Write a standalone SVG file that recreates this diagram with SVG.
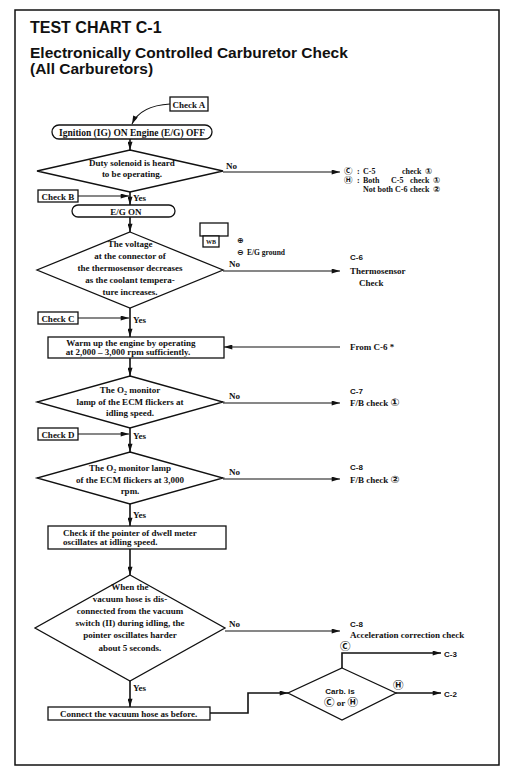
<svg xmlns="http://www.w3.org/2000/svg" width="511" height="783" viewBox="0 0 511 783">
<style>
.ln{stroke:#111;stroke-width:1.6;fill:none}
.tn{stroke:#111;stroke-width:1.1;fill:none}
.bx{fill:#fff;stroke:#111;stroke-width:1.3}
.t{font-family:"Liberation Serif","Times New Roman","Noto Sans CJK JP",serif;font-weight:bold;font-size:9px;fill:#111}
.c{text-anchor:middle}
.s{font-family:"Liberation Sans",Arial,sans-serif;font-weight:bold;fill:#111}
.sym{font-family:"DejaVu Sans","Noto Sans CJK JP",sans-serif;font-weight:bold;font-size:10.5px;fill:#111}
.f6{font-size:6px}
.f75{font-size:7.5px}
.f8{font-size:8px}
.f95{font-size:9.5px}
.y9{font-size:8.5px}
</style>
<defs>
<marker id="ah" viewBox="0 0 10 6" refX="10" refY="3" markerWidth="9" markerHeight="5" orient="auto" markerUnits="userSpaceOnUse"><path d="M0,0 L10,3 L0,6 z" fill="#111"/></marker>
</defs>
<rect x="0" y="0" width="511" height="783" fill="#fff"/>
<rect x="15" y="10" width="484" height="755" fill="none" stroke="#111" stroke-width="1.5"/>
<g id="title">
<text x="30" y="33" class="s" font-size="16">TEST CHART C-1</text>
<text x="30" y="58" class="s" font-size="15.5">Electronically Controlled Carburetor Check</text>
<text x="30" y="74" class="s" font-size="15.5">(All Carburetors)</text>
</g>
<g id="connectors">
<path class="tn" d="M170,104 C152,105 138,111 132,124" marker-end="url(#ah)"/>
<line class="ln" x1="130" y1="139" x2="130" y2="150" marker-end="url(#ah)"/>
<line class="ln" x1="130" y1="192" x2="130" y2="205" marker-end="url(#ah)"/>
<line class="tn" x1="78" y1="196" x2="129" y2="196" marker-end="url(#ah)"/>
<line class="ln" x1="130" y1="217" x2="130" y2="232" marker-end="url(#ah)"/>
<line class="ln" x1="130" y1="308" x2="130" y2="337" marker-end="url(#ah)"/>
<line class="tn" x1="78" y1="318" x2="129" y2="318" marker-end="url(#ah)"/>
<line class="ln" x1="130" y1="358" x2="130" y2="376" marker-end="url(#ah)"/>
<line class="ln" x1="130" y1="428" x2="130" y2="452" marker-end="url(#ah)"/>
<line class="tn" x1="78" y1="434" x2="129" y2="434" marker-end="url(#ah)"/>
<line class="ln" x1="130" y1="504" x2="130" y2="526" marker-end="url(#ah)"/>
<line class="ln" x1="130" y1="549" x2="130" y2="575" marker-end="url(#ah)"/>
<line class="ln" x1="130" y1="681" x2="130" y2="707" marker-end="url(#ah)"/>
<line class="tn" x1="223" y1="172" x2="340" y2="172" marker-end="url(#ah)"/>
<line class="tn" x1="223" y1="271" x2="340" y2="271" marker-end="url(#ah)"/>
<line class="tn" x1="340" y1="347" x2="224" y2="347" marker-end="url(#ah)"/>
<line class="tn" x1="223" y1="403" x2="340" y2="403" marker-end="url(#ah)"/>
<line class="tn" x1="223" y1="479" x2="340" y2="479" marker-end="url(#ah)"/>
<line class="tn" x1="225" y1="631" x2="340" y2="631" marker-end="url(#ah)"/>
<path class="ln" d="M210,713 H248 V693 H288" stroke-width="2" marker-end="url(#ah)"/>
<path class="ln" d="M342,668 V653 H441" marker-end="url(#ah)"/>
<line class="ln" x1="396" y1="693" x2="441" y2="693" marker-end="url(#ah)"/>
</g>
<g id="checkA"><rect class="bx" x="170" y="97" width="38" height="14"/><text class="t c" x="189" y="107.5">Check A</text></g>
<g id="ignition"><rect class="bx" x="52" y="125" width="160" height="14" rx="7"/><text class="t c f95" x="132" y="135.5">Ignition (IG) ON Engine (E/G) OFF</text></g>
<g id="d1"><polygon class="bx" points="130,150 223,171 130,192 37,171"/>
<text class="t c" x="132" y="166">Duty solenoid is heard</text>
<text class="t c" x="132" y="177">to be operating.</text>
<text class="t" x="226" y="169">No</text></g>
<g id="res1">
<text class="sym y9" x="344" y="174">Ⓒ</text><text class="t f8" x="357" y="174">:</text><text class="t f8" x="363" y="174">C-5</text><text class="t f8" x="402" y="174">check</text><text class="sym y9" x="425" y="174">①</text>
<text class="sym y9" x="344" y="183">Ⓗ</text><text class="t f8" x="357" y="183">:</text><text class="t f8" x="363" y="183">Both</text><text class="t f8" x="391" y="183">C-5</text><text class="t f8" x="410" y="183">check</text><text class="sym y9" x="433" y="183">①</text>
<text class="t f8" x="363" y="192">Not both C-6</text><text class="t f8" x="410" y="192">check</text><text class="sym y9" x="433" y="192">②</text>
</g>
<g id="checkB"><rect class="bx" x="38" y="190" width="40" height="12"/><text class="t c" x="58" y="199.5">Check B</text><text class="t" x="133" y="201">Yes</text></g>
<g id="egon"><rect class="bx" x="72" y="205" width="103" height="12" rx="6"/><text class="t c" x="126" y="214.5">E/G ON</text></g>
<g id="wb">
<rect class="bx" x="200" y="223" width="28" height="13" stroke-width="1"/>
<rect class="bx" x="203" y="236" width="16" height="11" stroke-width="1"/>
<text class="t c f6" x="211" y="244">WB</text>
<text class="sym f8" x="237" y="243">⊕</text>
<text class="sym f8" x="237" y="255">⊖</text>
<text class="t f75" x="247" y="255">E/G ground</text>
</g>
<g id="d2"><polygon class="bx" points="130,232 223,270 130,308 37,270"/>
<text class="t c" x="130" y="247">The voltage</text>
<text class="t c" x="130" y="259">at the connector of</text>
<text class="t c" x="130" y="271">the thermosensor decreases</text>
<text class="t c" x="130" y="283">as the coolant tempera-</text>
<text class="t c" x="130" y="295">ture increases.</text>
<text class="t" x="229" y="267">No</text></g>
<g id="res2"><text class="s" x="350" y="260" font-size="8">C-6</text><text class="t" x="350" y="274">Thermosensor</text><text class="t" x="359" y="286">Check</text></g>
<g id="checkC"><rect class="bx" x="38" y="312" width="40" height="12"/><text class="t c" x="58" y="321.5">Check C</text><text class="t" x="133" y="323">Yes</text></g>
<g id="warm"><rect class="bx" x="48" y="337" width="176" height="21"/>
<text class="t c" x="131" y="346">Warm up the engine by operating</text>
<text class="t c" x="128" y="355">at 2,000 – 3,000 rpm sufficiently.</text></g>
<g id="fromC6"><text class="t" x="350" y="350">From C-6  *</text></g>
<g id="d3"><polygon class="bx" points="130,376 223,402 130,428 37,402"/>
<text class="t c" x="130" y="393">The O<tspan font-size="6" dy="2">2</tspan><tspan dy="-2"> monitor</tspan></text>
<text class="t c" x="130" y="405">lamp of the ECM flickers at</text>
<text class="t c" x="130" y="416">idling speed.</text>
<text class="t" x="229" y="399">No</text></g>
<g id="res3"><text class="s" x="350" y="394" font-size="8">C-7</text><text class="t" x="350" y="406">F/B check <tspan class="sym">①</tspan></text></g>
<g id="checkD"><rect class="bx" x="38" y="428" width="40" height="12"/><text class="t c" x="58" y="437.5">Check D</text><text class="t" x="133" y="439">Yes</text></g>
<g id="d4"><polygon class="bx" points="130,452 223,478 130,504 37,478"/>
<text class="t c" x="130" y="471">The O<tspan font-size="6" dy="2">2</tspan><tspan dy="-2"> monitor lamp</tspan></text>
<text class="t c" x="130" y="483">of the ECM flickers at 3,000</text>
<text class="t c" x="130" y="494">rpm.</text>
<text class="t" x="229" y="475">No</text></g>
<g id="res4"><text class="s" x="350" y="470" font-size="8">C-8</text><text class="t" x="350" y="483">F/B check <tspan class="sym">②</tspan></text></g>
<g id="yes4"><text class="t" x="133" y="518">Yes</text></g>
<g id="checkPtr"><rect class="bx" x="48" y="526" width="178" height="23"/>
<text class="t" x="63" y="536">Check if the pointer of dwell meter</text>
<text class="t" x="63" y="545">oscillates at idling  speed.</text></g>
<g id="d5"><polygon class="bx" points="130,575 225,628 130,681 35,628"/>
<text class="t c" x="130" y="590">When the</text>
<text class="t c" x="130" y="602">vacuum hose is dis-</text>
<text class="t c" x="130" y="614">connected from the vacuum</text>
<text class="t c" x="130" y="626">switch (II) during idling, the</text>
<text class="t c" x="130" y="638">pointer oscillates harder</text>
<text class="t c" x="130" y="651">about 5 seconds.</text>
<text class="t" x="229" y="627">No</text></g>
<g id="res5"><text class="s" x="350" y="627" font-size="8">C-8</text><text class="t" x="350" y="638">Acceleration correction check</text></g>
<g id="yes5"><text class="t" x="133" y="691">Yes</text></g>
<g id="connect"><rect class="bx" x="48" y="707" width="162" height="13"/><text class="t" x="60" y="717">Connect the vacuum hose as before.</text></g>
<g id="carb"><polygon class="bx" points="342,668 396,693 342,720 288,693"/>
<text class="s c" x="340" y="694" font-size="8">Carb. is</text>
<text class="t c" x="341" y="706"><tspan class="sym">Ⓒ</tspan> or <tspan class="sym">Ⓗ</tspan></text>
<text class="sym" x="340" y="650">Ⓒ</text>
<text class="sym" x="393" y="689">Ⓗ</text>
<text class="s" x="444" y="657" font-size="8">C-3</text>
<text class="s" x="444" y="697" font-size="8">C-2</text></g>
</svg>
